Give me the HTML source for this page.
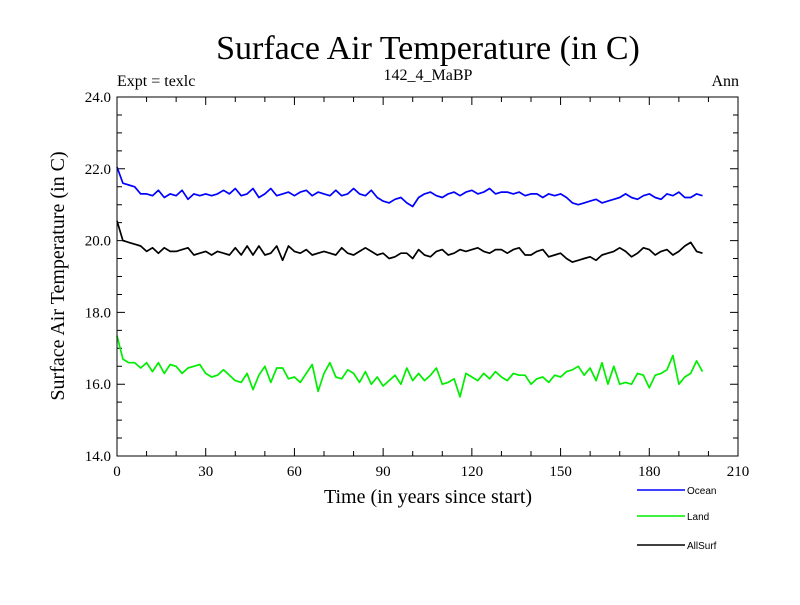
<!DOCTYPE html>
<html><head><meta charset="utf-8"><style>
body{margin:0;background:#fff;}
text{font-family:"Liberation Serif",serif;}
</style></head><body>
<svg id="chart" width="800" height="600" xmlns="http://www.w3.org/2000/svg">
<text x="428" y="59" font-size="34" text-anchor="middle">Surface Air Temperature (in C)</text>
<text x="117" y="86" font-size="16">Expt = texlc</text>
<text x="428" y="80" font-size="16" text-anchor="middle">142_4_MaBP</text>
<text x="739" y="86" font-size="16" text-anchor="end">Ann</text>
<text x="428" y="503" font-size="20" text-anchor="middle">Time (in years since start)</text>
<text transform="translate(64,276) rotate(-90)" font-size="20" text-anchor="middle">Surface Air Temperature (in C)</text>
<g id="axes"></g><g id="series"></g><g id="legend"></g>
<rect x="117" y="97" width="621" height="359" fill="none" stroke="#000" stroke-width="1"/>
</svg>
<script>
const ocean=[22.05,21.6,21.55,21.5,21.3,21.3,21.25,21.4,21.2,21.3,21.25,21.4,21.15,21.3,21.25,21.3,21.25,21.3,21.4,21.3,21.45,21.25,21.3,21.45,21.2,21.3,21.45,21.25,21.3,21.35,21.25,21.35,21.4,21.25,21.35,21.3,21.25,21.4,21.25,21.3,21.45,21.3,21.25,21.4,21.2,21.1,21.05,21.15,21.2,21.05,20.95,21.2,21.3,21.35,21.25,21.2,21.3,21.35,21.25,21.35,21.4,21.3,21.35,21.45,21.3,21.35,21.35,21.3,21.35,21.25,21.3,21.3,21.2,21.3,21.25,21.3,21.2,21.05,21.0,21.05,21.1,21.15,21.05,21.1,21.15,21.2,21.3,21.2,21.15,21.25,21.3,21.2,21.15,21.3,21.25,21.35,21.2,21.2,21.3,21.25];
const allsurf=[20.55,20.0,19.95,19.9,19.85,19.7,19.8,19.65,19.8,19.7,19.7,19.75,19.8,19.6,19.65,19.7,19.6,19.7,19.65,19.6,19.8,19.6,19.85,19.6,19.85,19.6,19.65,19.85,19.45,19.85,19.7,19.65,19.75,19.6,19.65,19.7,19.65,19.6,19.8,19.65,19.6,19.7,19.8,19.7,19.6,19.65,19.5,19.55,19.65,19.65,19.5,19.75,19.6,19.55,19.7,19.75,19.6,19.65,19.75,19.7,19.75,19.8,19.7,19.65,19.75,19.75,19.65,19.75,19.8,19.6,19.6,19.7,19.75,19.55,19.6,19.65,19.5,19.4,19.45,19.5,19.55,19.45,19.6,19.65,19.7,19.8,19.7,19.55,19.65,19.8,19.75,19.6,19.7,19.75,19.6,19.7,19.85,19.95,19.7,19.65];
const land=[17.35,16.7,16.6,16.6,16.45,16.6,16.35,16.6,16.3,16.55,16.5,16.3,16.45,16.5,16.55,16.3,16.2,16.25,16.4,16.25,16.1,16.05,16.3,15.85,16.25,16.5,16.05,16.45,16.45,16.15,16.2,16.05,16.3,16.55,15.8,16.3,16.6,16.2,16.15,16.4,16.3,16.05,16.35,16.0,16.2,15.95,16.1,16.25,16.0,16.45,16.1,16.3,16.1,16.25,16.45,16.0,16.05,16.15,15.65,16.3,16.2,16.1,16.3,16.15,16.35,16.2,16.1,16.3,16.25,16.25,16.0,16.15,16.2,16.05,16.25,16.2,16.35,16.4,16.5,16.25,16.45,16.1,16.6,16.0,16.5,16.0,16.05,16.0,16.3,16.25,15.9,16.25,16.3,16.4,16.8,16.0,16.2,16.3,16.65,16.35];
const seriesNames=["Ocean","Land","AllSurf"];
const seriesColors=["#0000ff","#00ee00","#000000"];
const xTicks=[0,30,60,90,120,150,180,210];
const yTicks=[14,16,18,20,22,24];
const yearStep=2;
const NS="http://www.w3.org/2000/svg";
const X0=117,X1=738,Y0=456,Y1=97;
const sx=v=>X0+(v-0)/(210-0)*(X1-X0);
const sy=v=>Y0-(v-14)/(24-14)*(Y0-Y1);
function mk(tag,attrs,parent){const e=document.createElementNS(NS,tag);for(const k in attrs)e.setAttribute(k,attrs[k]);parent.appendChild(e);return e;}
const axes=document.getElementById('axes');
for(let v=0;v<=210;v+=10){const major=v%30===0;const L=major?8:5;const x=sx(v);
 const t=mk('path',{d:`M${x},${Y0}v${-L}M${x},${Y1}v${L}`,stroke:'#000','stroke-width':1},axes);
 
 }
xTicks.forEach(v=>{const t=mk('text',{x:sx(v),y:Y0+20,'font-size':15,'text-anchor':'middle'},axes);t.textContent=v;
 
 });
for(let v=14;v<=24.001;v+=0.5){const major=Math.abs(v-Math.round(v/2)*2)<1e-6;const L=major?8:5;const y=sy(v);
 const t=mk('path',{d:`M${X0},${y}h${L}M${X1},${y}h${-L}`,stroke:'#000','stroke-width':1},axes);
 
 }
yTicks.forEach(v=>{const t=mk('text',{x:X0-6,y:sy(v)+5,'font-size':15,'text-anchor':'end'},axes);t.textContent=v.toFixed(1);
 
 });
const sg=document.getElementById('series');
[ocean,land,allsurf].forEach((arr,i)=>{
 const d=arr.map((v,j)=>(j?'L':'M')+sx(j*yearStep).toFixed(1)+','+sy(v).toFixed(1)).join('');
 const p=mk('path',{d:d,fill:'none',stroke:seriesColors[i],'stroke-width':1.7,'stroke-linejoin':'round'},sg);
 
 
});
const lg=document.getElementById('legend');
seriesNames.forEach((n,i)=>{const y=[490,516,545][i];
 const l=mk('line',{x1:637,x2:685,y1:y,y2:y,stroke:seriesColors[i],'stroke-width':1.5},lg);
 
 
 const t=mk('text',{x:687,y:y+4,'font-size':10,style:'font-family:"Liberation Sans",sans-serif'},lg);t.textContent=n;
 
 
});
</script>
</body></html>
